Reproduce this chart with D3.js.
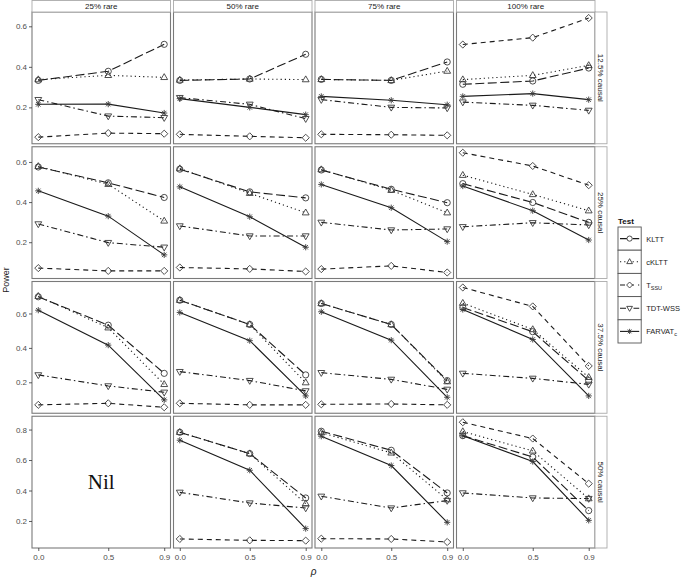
<!DOCTYPE html>
<html>
<head>
<meta charset="utf-8">
<script src="https://cdn.jsdelivr.net/npm/d3@7"></script>
<style>
  body { margin: 0; background: #fff; }
  text { font-family: "Liberation Sans", Arial, sans-serif; }
</style>
</head>
<body>
<svg id="chart" width="685" height="577"></svg>
<script>
// facet levels
var rareLevels = ["25% rare", "50% rare", "75% rare", "100% rare"];
var causalLevels = ["12.5% causal", "25% causal", "37.5% causal", "50% causal"];
var rhoValues = [0.0, 0.5, 0.9];

// power per test: [causal row][rare column][rho]
var klttPower = [
  [[0.333, 0.378, 0.511], [0.333, 0.340, 0.462], [0.338, 0.333, 0.424], [0.314, 0.330, 0.394]],
  [[0.575, 0.496, 0.423], [0.564, 0.451, 0.421], [0.560, 0.464, 0.397], [0.492, 0.398, 0.299]],
  [[0.697, 0.532, 0.252], [0.677, 0.536, 0.243], [0.658, 0.536, 0.210], [0.635, 0.494, 0.210]],
  [null, [0.782, 0.642, 0.351], [0.789, 0.664, 0.384], [0.760, 0.620, 0.268]]
];
var cklttPower = [
  [[0.337, 0.358, 0.348], [0.335, 0.340, 0.337], [0.338, 0.333, 0.379], [0.337, 0.358, 0.407]],
  [[0.578, 0.489, 0.306], [0.567, 0.444, 0.347], [0.562, 0.459, 0.347], [0.534, 0.438, 0.357]],
  [[0.700, 0.517, 0.188], [0.677, 0.536, 0.198], [0.658, 0.536, 0.204], [0.660, 0.507, 0.229]],
  [null, [0.782, 0.642, 0.314], [0.780, 0.647, 0.340], [0.787, 0.660, 0.347]]
];
var tssuPower = [
  [[0.053, 0.073, 0.070], [0.067, 0.057, 0.050], [0.067, 0.065, 0.062], [0.510, 0.544, 0.641]],
  [[0.071, 0.057, 0.057], [0.074, 0.067, 0.054], [0.066, 0.082, 0.049], [0.646, 0.580, 0.484]],
  [[0.069, 0.078, 0.055], [0.078, 0.069, 0.069], [0.072, 0.074, 0.069], [0.751, 0.641, 0.295]],
  [null, [0.082, 0.073, 0.071], [0.084, 0.082, 0.062], [0.848, 0.741, 0.445]]
];
var tdtwssPower = [
  [[0.238, 0.157, 0.149], [0.248, 0.215, 0.144], [0.238, 0.200, 0.197], [0.226, 0.210, 0.185]],
  [[0.291, 0.198, 0.175], [0.281, 0.231, 0.231], [0.299, 0.261, 0.266], [0.277, 0.297, 0.286]],
  [[0.243, 0.179, 0.142], [0.262, 0.210, 0.150], [0.256, 0.217, 0.159], [0.252, 0.223, 0.188]],
  [null, [0.388, 0.318, 0.285], [0.362, 0.285, 0.334], [0.384, 0.351, 0.347]]
];
var farvatPower = [
  [[0.215, 0.216, 0.172], [0.243, 0.200, 0.164], [0.254, 0.235, 0.213], [0.254, 0.268, 0.238]],
  [[0.456, 0.330, 0.137], [0.476, 0.327, 0.175], [0.488, 0.372, 0.203], [0.480, 0.357, 0.211]],
  [[0.619, 0.416, 0.098], [0.606, 0.442, 0.121], [0.610, 0.445, 0.113], [0.623, 0.449, 0.121]],
  [null, [0.730, 0.533, 0.150], [0.756, 0.564, 0.191], [0.760, 0.590, 0.204]]
];

var tests = [
  { name: "KLTT", sub: "", power: klttPower, shape: "circle", dash: "9,3.5" },
  { name: "cKLTT", sub: "", power: cklttPower, shape: "triangleUp", dash: "1.2,3" },
  { name: "T", sub: "SSU", power: tssuPower, shape: "diamond", dash: "5,4" },
  { name: "TDT-WSS", sub: "", power: tdtwssPower, shape: "triangleDown", dash: "6,3,1.5,3" },
  { name: "FARVAT", sub: "c", power: farvatPower, shape: "asterisk", dash: null }
];

var svg = d3.select("#chart");
var plotLeft = 32, plotRight = 595, plotTop = 12, plotBottom = 548, gap = 3;
var panelW = (plotRight - plotLeft - 3 * gap) / 4;
var panelH = (plotBottom - plotTop - 3 * gap) / 4;
var lineColor = "#1a1a1a";
var markColor = "#3a3a3a";
var borderColor = "#7a7a7a";
var textColor = "#4d4d4d";

function shapePath(shape, r) {
  if (shape == "circle") {
    return "M" + r + ",0A" + r + "," + r + " 0 1,1 " + -r + ",0A" + r + "," + r + " 0 1,1 " + r + ",0Z";
  }
  if (shape == "triangleUp") {
    return "M0," + -r * 1.2 + "L" + r * 1.1 + "," + r * 0.7 + "L" + -r * 1.1 + "," + r * 0.7 + "Z";
  }
  if (shape == "triangleDown") {
    return "M0," + r * 1.2 + "L" + r * 1.1 + "," + -r * 0.7 + "L" + -r * 1.1 + "," + -r * 0.7 + "Z";
  }
  if (shape == "diamond") {
    var s = r * 1.15;
    return "M0," + -s + "L" + s + ",0L0," + s + "L" + -s + ",0Z";
  }
  // asterisk: plus and cross together
  var d = r * 0.72;
  return "M" + -r + ",0L" + r + ",0M0," + -r + "L0," + r +
    "M" + -d + "," + -d + "L" + d + "," + d + "M" + -d + "," + d + "L" + d + "," + -d;
}

// x scale with 5% expansion, same for every panel
var rhoExtent = d3.extent(rhoValues);
var rhoPad = (rhoExtent[1] - rhoExtent[0]) * 0.05;

function rowScale(row) {
  var vals = [];
  tests.forEach(function (t) {
    t.power[row].forEach(function (cell) {
      if (cell) vals = vals.concat(cell);
    });
  });
  var ext = d3.extent(vals);
  var pad = (ext[1] - ext[0]) * 0.05;
  return d3.scaleLinear()
    .domain([ext[0] - pad, ext[1] + pad])
    .range([panelH, 0]);
}

function drawPanel(row, col, y) {
  var px = plotLeft + col * (panelW + gap);
  var py = plotTop + row * (panelH + gap);
  var x = d3.scaleLinear()
    .domain([rhoExtent[0] - rhoPad, rhoExtent[1] + rhoPad])
    .range([0, panelW]);

  var g = svg.append("g")
    .attr("transform", "translate(" + px + "," + py + ")");

  g.append("rect")
    .attr("width", panelW)
    .attr("height", panelH)
    .attr("fill", "#fff");

  var line = d3.line()
    .x(function (d, i) { return x(rhoValues[i]); })
    .y(function (d) { return y(d); });

  // lines first, then the points on top
  tests.forEach(function (t) {
    var vals = t.power[row][col];
    if (!vals) return;
    g.append("path")
      .attr("d", line(vals))
      .attr("fill", "none")
      .attr("stroke", lineColor)
      .attr("stroke-width", 1.1)
      .attr("stroke-dasharray", t.dash);
  });
  tests.forEach(function (t) {
    var vals = t.power[row][col];
    if (!vals) return;
    g.selectAll(null)
      .data(vals)
      .enter()
      .append("path")
      .attr("transform", function (d, i) {
        return "translate(" + x(rhoValues[i]) + "," + y(d) + ")";
      })
      .attr("d", shapePath(t.shape, 3.1))
      .attr("fill", "none")
      .attr("stroke", markColor)
      .attr("stroke-width", 0.9);
  });

  if (!tests[0].power[row][col]) {
    g.append("text")
      .text("Nil")
      .attr("x", panelW / 2)
      .attr("y", panelH / 2 + 7)
      .attr("text-anchor", "middle")
      .style("font-family", "'Liberation Serif', serif")
      .attr("font-size", "21px")
      .attr("fill", "#111");
  }

  g.append("rect")
    .attr("width", panelW)
    .attr("height", panelH)
    .attr("fill", "none")
    .attr("stroke", borderColor)
    .attr("stroke-width", 1.1);

  // left axis on the first column
  if (col == 0) {
    var ya = g.append("g")
      .call(d3.axisLeft(y).ticks(3).tickSize(3).tickPadding(2).tickFormat(d3.format(".1f")));
    styleAxis(ya);
  }
  // bottom axis on the last row
  if (row == 3) {
    var xa = g.append("g")
      .attr("transform", "translate(0," + panelH + ")")
      .call(d3.axisBottom(x).tickValues(rhoValues).tickSize(3).tickPadding(3).tickFormat(d3.format(".1f")));
    styleAxis(xa);
  }
}

function styleAxis(a) {
  a.select(".domain").remove();
  a.selectAll(".tick line").attr("stroke", "#333").attr("stroke-width", 0.8);
  a.selectAll(".tick text")
    .attr("fill", textColor)
    .attr("font-size", "8px")
    .attr("font-family", "Liberation Sans, Arial, sans-serif");
}

for (var r = 0; r < 4; r++) {
  var y = rowScale(r);
  for (var c = 0; c < 4; c++) {
    drawPanel(r, c, y);
  }
}

// top strips
rareLevels.forEach(function (lab, c) {
  var px = plotLeft + c * (panelW + gap);
  svg.append("rect")
    .attr("x", px)
    .attr("y", 0.5)
    .attr("width", panelW)
    .attr("height", plotTop - 0.5)
    .attr("fill", "#fff")
    .attr("stroke", "#aaa")
    .attr("stroke-width", 0.9);
  svg.append("text")
    .text(lab)
    .attr("x", px + panelW / 2)
    .attr("y", plotTop / 2 + 3)
    .attr("text-anchor", "middle")
    .attr("font-size", "8px")
    .attr("fill", "#222");
});

// right strips
causalLevels.forEach(function (lab, r) {
  var py = plotTop + r * (panelH + gap);
  svg.append("rect")
    .attr("x", plotRight)
    .attr("y", py)
    .attr("width", 12)
    .attr("height", panelH)
    .attr("fill", "#fff")
    .attr("stroke", "#aaa")
    .attr("stroke-width", 0.9);
  svg.append("text")
    .text(lab)
    .attr("transform", "translate(" + (plotRight + 3) + "," + (py + panelH / 2) + ") rotate(90)")
    .attr("text-anchor", "middle")
    .attr("font-size", "8px")
    .attr("fill", "#222");
});

// axis titles
svg.append("text")
  .text("Power")
  .attr("transform", "translate(9," + (plotTop + plotBottom) / 2 + ") rotate(-90)")
  .attr("text-anchor", "middle")
  .attr("font-size", "9px")
  .attr("fill", "#222");

svg.append("text")
  .text("ρ")
  .attr("x", (plotLeft + plotRight) / 2)
  .attr("y", 575)
  .attr("text-anchor", "middle")
  .attr("font-size", "10px")
  .attr("font-style", "italic")
  .attr("fill", "#222");

// legend
var legX = 618, legY = 227, keySize = 23.2;
svg.append("text")
  .text("Test")
  .attr("x", legX)
  .attr("y", legY - 3)
  .attr("font-size", "8px")
  .attr("font-weight", "bold")
  .attr("fill", "#111");

var keys = svg.selectAll(".key")
  .data(tests)
  .enter()
  .append("g")
  .attr("class", "key")
  .attr("transform", function (d, i) {
    return "translate(" + legX + "," + (legY + i * keySize) + ")";
  });

keys.append("rect")
  .attr("width", keySize)
  .attr("height", keySize)
  .attr("fill", "#fff")
  .attr("stroke", "#555")
  .attr("stroke-width", 0.9);

keys.append("line")
  .attr("x1", 2)
  .attr("x2", keySize - 2)
  .attr("y1", keySize / 2)
  .attr("y2", keySize / 2)
  .attr("stroke", lineColor)
  .attr("stroke-width", 1.1)
  .attr("stroke-dasharray", function (d) { return d.dash; });

keys.append("path")
  .attr("transform", "translate(" + keySize / 2 + "," + keySize / 2 + ")")
  .attr("d", function (d) { return shapePath(d.shape, 2.6); })
  .attr("fill", "#fff")
  .attr("stroke", markColor)
  .attr("stroke-width", 0.9);

var labels = keys.append("text")
  .attr("x", keySize + 5)
  .attr("y", keySize / 2 + 3)
  .attr("font-size", "7.5px")
  .attr("fill", "#222");
labels.append("tspan").text(function (d) { return d.name; });
labels.append("tspan")
  .text(function (d) { return d.sub; })
  .attr("font-size", "5.5px")
  .attr("dy", 2);
</script>
</body>
</html>
